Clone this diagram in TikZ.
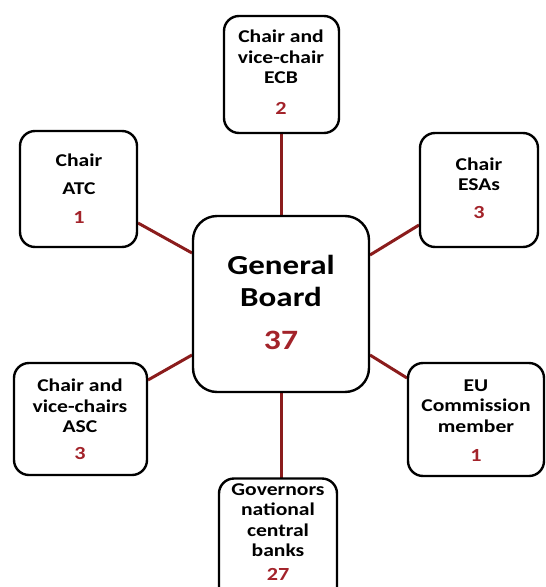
\documentclass[tikz,border=0pt]{standalone}
\usepackage{fontspec}
\setmainfont{Carlito}[FakeStretch=1.2]
\usetikzlibrary{calc}
\definecolor{numred}{HTML}{A3232A}
\definecolor{linkred}{HTML}{8B1C1C}
\tikzset{
  box/.style={draw=black, line width=2.4pt, rounded corners=15pt, fill=white, inner sep=0pt},
  lbl/.style={font=\bfseries\fontsize{18}{20.5}\selectfont, align=center, inner sep=0pt, text=black},
  num/.style={font=\bfseries\fontsize{18.5}{20}\selectfont, inner sep=0pt, text=numred},
  biglbl/.style={font=\bfseries\fontsize{27.5}{32}\selectfont, align=center, inner sep=0pt, text=black},
  bignum/.style={font=\bfseries\fontsize{28}{32}\selectfont, inner sep=0pt, text=numred},
  link/.style={draw=linkred, line width=3pt}
}
\begin{document}
\begin{tikzpicture}[x=1pt,y=-1pt]
\clip (0,0) rectangle (546,587);
\fill[white] (0,0) rectangle (546,587);
% connectors first (behind boxes)
\coordinate (ecbB) at (281,134);
\coordinate (genT) at (281,215);
\coordinate (atcR) at (138,223);
\coordinate (genTL) at (192,253);
\coordinate (esaL) at (419,225);
\coordinate (genTR) at (370,255);
\coordinate (ascR) at (148,380);
\coordinate (genBL) at (192,355);
\coordinate (euL) at (407,378);
\coordinate (genBR) at (370,355);
\coordinate (genB) at (281,393);
\coordinate (govT) at (281,478);
\draw[link] (ecbB) -- (genT);
\draw[link] (atcR) -- (genTL);
\draw[link] (esaL) -- (genTR);
\draw[link] (ascR) -- (genBL);
\draw[link] (euL) -- (genBR);
\draw[link] (genB) -- (govT);
% boxes
\node[box, minimum width=115pt, minimum height=117pt] (ecb) at (281.5,74.5) {};
\node[box, minimum width=117pt, minimum height=116pt] (atc) at (78.5,189) {};
\node[box, minimum width=118pt, minimum height=114pt] (esa) at (479,190) {};
\node[box, minimum width=176pt, minimum height=176pt, rounded corners=24pt] (gen) at (281,304) {};
\node[box, minimum width=133pt, minimum height=112pt] (asc) at (80.5,419) {};
\node[box, minimum width=136pt, minimum height=113pt] (eu) at (476,419.5) {};
\node[box, minimum width=118pt, minimum height=125pt] (gov) at (278,541) {};
% texts
\node[lbl] (ecbt) at (281,57) {Chair and\\vice-chair\\ECB};
\node[num] (ecbn) at (281,108) {2};
\node[lbl] (atct) at (79,174) {Chair\\[7pt]ATC};
\node[num] (atcn) at (79,217) {1};
\node[lbl] (esat) at (479,174) {Chair\\ESAs};
\node[num] (esan) at (479,212) {3};
\node[biglbl] (gent) at (281,281) {General\\Board};
\node[bignum] (genn) at (281,340) {37};
\node[lbl] (asct) at (80,406) {Chair and\\vice-chairs\\ASC};
\node[num] (ascn) at (80,453) {3};
\node[lbl] (eut) at (476,406) {EU\\Commission\\member};
\node[num] (eun) at (476,455) {1};
\node[lbl] (govt) at (278,520) {Governors\\national\\central\\banks};
\node[num] (govn) at (278,574) {27};
\end{tikzpicture}
\end{document}
